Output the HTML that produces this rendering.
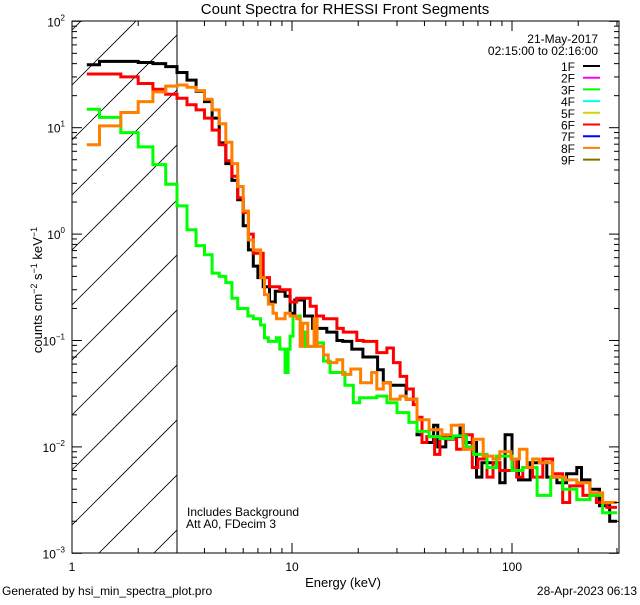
<!DOCTYPE html>
<html><head><meta charset="utf-8"><style>
html,body{margin:0;padding:0;background:#fff}
svg text{font-family:"Liberation Sans",sans-serif;fill:#000}
</style></head><body>
<svg id="chart" width="640" height="600" viewBox="0 0 640 600" xmlns="http://www.w3.org/2000/svg">
<rect width="640" height="600" fill="#fff"/>
<text x="345" y="14" font-size="15" text-anchor="middle">Count Spectra for RHESSI Front Segments</text>
<defs><clipPath id="hclip"><rect x="72" y="21" width="105" height="532"/></clipPath><clipPath id="pclip"><rect x="72" y="21" width="547" height="532"/></clipPath></defs>
<g id="hatch" clip-path="url(#hclip)"></g>
<line x1="177" y1="21" x2="177" y2="553" stroke="#000" stroke-width="1"/>
<g id="series" clip-path="url(#pclip)"></g>
<rect x="72" y="21" width="547" height="532" fill="none" stroke="#000" stroke-width="1"/>
<g id="axes"></g>
<g font-size="12">
<text x="598" y="43" text-anchor="end" font-size="12">21-May-2017</text>
<text x="598" y="55" text-anchor="end" font-size="12">02:15:00 to 02:16:00</text>
<g id="legend-entries"></g>
</g>
<text x="187" y="516" font-size="12">Includes Background</text>
<text x="186" y="528" font-size="12">Att A0, FDecim 3</text>
<text x="343" y="587" font-size="13" text-anchor="middle">Energy (keV)</text>
<text transform="translate(42,290) rotate(-90)" font-size="13" text-anchor="middle">counts cm<tspan dy="-5" font-size="9">−2</tspan><tspan dy="5"> s</tspan><tspan dy="-5" font-size="9">−1</tspan><tspan dy="5"> keV</tspan><tspan dy="-5" font-size="9">−1</tspan></text>
<text x="2" y="595" font-size="12">Generated by hsi_min_spectra_plot.pro</text>
<text x="637" y="595" font-size="12" text-anchor="end">28-Apr-2023 06:13</text>
</svg>
<script>
const xTicks=[1,10,100];
const xTickLabels=["1","10","100"];
const yExps=[2,1,0,-1,-2,-3];
const legendLabels=["1F","2F","3F","4F","5F","6F","7F","8F","9F"];
const legendColors=["#000","#ff00ff","#00ff00","#00ffff","#d8d000","#ff0000","#0000ff","#ff8000","#807000"];

const black_E=[1.167,1.333,1.667,2,2.333,2.667,3,3.333,3.667,4,4.333,4.667,5,5.333,5.667,6,6.333,6.667,7,7.4,7.9,8.4,9.3,9.8,10.3,11.4,12.4,14.4,16,17,18.7,21,24.5,26,28,30,33,37,39,44,46,50,58,60,69,73,88,93,100,107,121,144,160,177,197,207,226,250,278,300];
const black_V=[39,42,42,41,40,37.5,33,28,22,17.6,12.3,7.2,4.6,3.2,2.1,1.2,0.71,0.5,0.39,0.32,0.23,0.29,0.26,0.18,0.24,0.17,0.13,0.12,0.1,0.098,0.083,0.07,0.053,0.04,0.038,0.038,0.028,0.013,0.011,0.016,0.010,0.0125,0.016,0.011,0.0052,0.0071,0.0046,0.013,0.0077,0.0049,0.0071,0.0052,0.0046,0.0056,0.0064,0.0049,0.0040,0.0028,0.0020];
const red_E=[1.167,1.667,2,2.333,2.667,3,3.333,3.667,4,4.333,4.667,5,5.333,5.667,6,6.333,6.667,7.4,7.9,8.8,9.8,10.5,12.1,12.9,13.9,16,17.1,19.7,21.1,24.3,27,28.9,31,33.2,35.6,37,39,41,44.5,47,51,56,62,66,70,77,82,88,101,105,112,124,138,153,170,183,210,242,270,300];
const red_V=[32,30,26,23,20.6,18.9,16.4,14.7,12.3,9.5,6.9,4.9,3.5,2.2,1.6,1.0,0.66,0.39,0.32,0.30,0.23,0.25,0.21,0.17,0.16,0.13,0.12,0.10,0.098,0.077,0.085,0.062,0.046,0.035,0.025,0.019,0.011,0.0125,0.0085,0.0125,0.0118,0.0095,0.013,0.0064,0.0077,0.0052,0.0071,0.0060,0.0077,0.0052,0.0064,0.0052,0.0077,0.0056,0.0030,0.0043,0.0035,0.0030,0.0027];
const green_E=[1.167,1.333,1.667,2,2.333,2.667,3,3.333,3.667,4,4.333,4.667,5,5.333,5.667,6.3,6.667,7.2,7.5,7.8,8.5,8.8,9.3,9.6,9.8,10.1,10.9,11.5,12.9,13.9,14.9,17.4,19,20.3,24.3,27,30,34,37,42,47,54,62,67,77,85,100,112,130,150,170,197,226,258,300];
const green_V=[14.9,12.5,9.0,6.6,4.5,2.94,1.84,1.1,0.78,0.64,0.43,0.40,0.35,0.25,0.20,0.17,0.16,0.14,0.106,0.098,0.106,0.083,0.050,0.083,0.11,0.17,0.12,0.088,0.095,0.064,0.050,0.038,0.026,0.029,0.030,0.026,0.021,0.017,0.014,0.0125,0.012,0.0127,0.010,0.0085,0.0064,0.0082,0.006,0.0064,0.0035,0.0052,0.004,0.0032,0.0035,0.0024];
const orange_E=[1.167,1.333,1.667,2,2.333,2.667,3,3.333,3.667,4,4.333,4.667,5,5.333,5.667,6,6.333,6.667,7.2,7.5,7.8,8.2,8.5,9.3,9.8,10.5,10.9,11.2,11.8,12.6,13,13.9,14.6,16,17,18.5,20.5,23,24.3,26,28,31,33,37,42,48,53,60,67,74,82,88,99,108,117,124,133,153,175,197,226,258,300];
const orange_V=[6.9,10.4,13.9,17.6,21.7,24.6,25.2,24,22.3,18.5,14.7,10.9,7.3,4.6,2.8,1.65,0.88,0.71,0.39,0.27,0.22,0.18,0.16,0.18,0.17,0.16,0.088,0.145,0.088,0.16,0.088,0.073,0.062,0.066,0.048,0.054,0.040,0.05,0.035,0.040,0.028,0.030,0.028,0.018,0.0145,0.013,0.016,0.0095,0.0118,0.0082,0.0077,0.009,0.0077,0.0095,0.0064,0.0077,0.0071,0.0052,0.0049,0.0046,0.0037,0.0030];

const X0=72,XD=220,Y0=21.3,YD=106.4;
function xs(e){return X0+XD*Math.log10(e);}
function ys(v){return Y0+YD*(2-Math.log10(v));}
const NS="http://www.w3.org/2000/svg";
function mk(tag,attrs,parent){const el=document.createElementNS(NS,tag);for(const k in attrs)el.setAttribute(k,attrs[k]);parent.appendChild(el);return el;}

// hatch
const hatch=document.getElementById('hatch');
for(let i=-6;i<12;i++){const y=30+i*55;
 const l=mk('line',{x1:72,y1:y,x2:72+600,y2:y-600,stroke:'#000','stroke-width':0.8},hatch);
 
 }

// axes
const axes=document.getElementById('axes');
for(let d=0;d<3;d++){for(let m=1;m<10;m++){const e=Math.pow(10,d)*m;if(e>306)continue;const x=xs(e);const len=m===1?10:5;
 const t1=mk('line',{x1:x,y1:553,x2:x,y2:553-len,stroke:'#000'},axes);
 
 
 const t2=mk('line',{x1:x,y1:21,x2:x,y2:21+len,stroke:'#000'},axes);
 
 }}
xTicks.forEach((t,i)=>{const tx=mk('text',{x:xs(t),y:571,'font-size':12,'text-anchor':'middle'},axes);tx.textContent=xTickLabels[i];
 
 });
yExps.forEach(p=>{for(let m=1;m<10;m++){if(p===2&&m>1)continue;const y=ys(m*Math.pow(10,p));const len=m===1?10:5;
 const a=mk('line',{x1:72,y1:y,x2:72+len,y2:y,stroke:'#000'},axes);
 
 
 const b=mk('line',{x1:619,y1:y,x2:619-len,y2:y,stroke:'#000'},axes);
 
 }
 const tx=mk('text',{x:65,y:ys(Math.pow(10,p))+5,'font-size':12,'text-anchor':'end'},axes);
 
 
 const base=document.createElementNS(NS,'tspan');base.textContent='10';tx.appendChild(base);
 const sup=document.createElementNS(NS,'tspan');sup.setAttribute('dy','-6');sup.setAttribute('font-size','8');sup.textContent=(p<0?'−':'')+Math.abs(p);tx.appendChild(sup);});

// series
const sg=document.getElementById('series');
function step(E,V,color,name){let d='';for(let i=0;i<V.length;i++){const x1=xs(E[i]),x2=xs(E[i+1]),y=ys(V[i]);d+=(i===0?'M':'L')+x1.toFixed(1)+','+y.toFixed(1)+'L'+x2.toFixed(1)+','+y.toFixed(1);}
 const p=mk('path',{d:d,fill:'none',stroke:color,'stroke-width':3,'stroke-linejoin':'miter'},sg);
 
 }
step(black_E,black_V,'#000','series-1f');
step(red_E,red_V,'#ff0000','series-6f');
step(green_E,green_V,'#00ff00','series-3f');
step(orange_E,orange_V,'#ff8000','series-8f');

// legend
const lg=document.getElementById('legend-entries');
legendLabels.forEach((lab,i)=>{const y=66+i*11.7;
 const g=mk('g',{},lg);
 
 
 const t=mk('text',{x:575,y:y+5,'font-size':12,'text-anchor':'end'},g);t.textContent=lab;
 mk('line',{x1:583,y1:y,x2:600,y2:y,stroke:legendColors[i],'stroke-width':2},g);});
</script>
</body></html>
